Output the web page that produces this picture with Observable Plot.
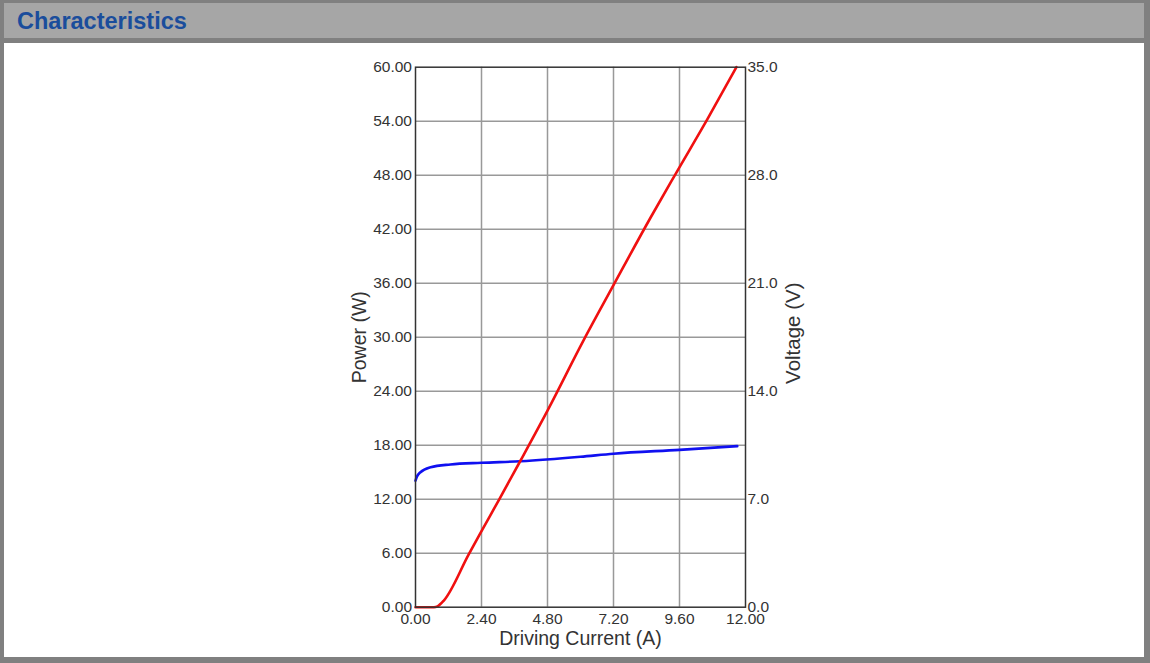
<!DOCTYPE html>
<html>
<head>
<meta charset="utf-8">
<script src="https://cdn.jsdelivr.net/npm/d3@7"></script>
<script src="https://cdn.jsdelivr.net/npm/@observablehq/plot@0.6"></script>
<style>
  html, body { margin: 0; padding: 0; background: #fff; }
  #wrap { position: relative; width: 1150px; height: 663px; background: #808080; overflow: hidden; font-family: Arial, "Liberation Sans", sans-serif; }
  #header { position: absolute; left: 4px; top: 3px; width: 1140px; height: 35px; background: #a6a6a6; }
  #header span { position: absolute; left: 13px; top: 5px; font-size: 23.5px; font-weight: bold; color: #1a4d9c; line-height: 26px; }
  #content { position: absolute; left: 4px; top: 43px; width: 1140px; height: 614px; background: #fff; }
  #content svg { display: block; }
</style>
</head>
<body>
<div id="wrap">
  <div id="header"><span>Characteristics</span></div>
  <div id="content"></div>
</div>
<script>
// Red curve: Power (W) vs Driving Current (A)
const redCurrent = [0, 0.67, 0.8, 1.03, 1.94, 2.39, 3.03, 3.82, 4.81, 6.12, 7.15, 8.55, 9.45, 10.61, 11.67];
const redPower   = [0, 0,    0.1, 0.74, 5.9,  8.4,  11.9, 16.3, 21.9, 29.7, 35.5, 43.3, 48.1, 54.2,  60.0];

// Blue curve: Voltage (V) vs Driving Current (A)
const blueCurrent = [0, 0.05, 0.18, 0.55, 1.27, 2.4, 3.82, 6.0, 7.2, 9.6, 11.7];
const blueVoltage = [8.2, 8.45, 8.75, 9.07, 9.25, 9.36, 9.46, 9.75, 9.95, 10.2, 10.44];

// Axis ticks
const xTicks = [0, 2.4, 4.8, 7.2, 9.6, 12];
const powerTicks = [0, 6, 12, 18, 24, 30, 36, 42, 48, 54, 60];
const voltageTicks = [0, 7, 14, 21, 28, 35];

const xLabel = "Driving Current (A)";
const leftLabel = "Power (W)";
const rightLabel = "Voltage (V)";

const powerMax = 60, voltageMax = 35;
const v2p = v => v * powerMax / voltageMax;

const redData = redCurrent.map((a, i) => ({a, w: redPower[i]}));
const blueData = blueCurrent.map((a, i) => ({a, v: blueVoltage[i]}));

const font = 'Arial, "Liberation Sans", sans-serif';

const chart = Plot.plot({
  width: 1140,
  height: 614,
  marginLeft: 411,
  marginRight: 399,
  marginTop: 23.7,
  marginBottom: 50.3,
  style: {fontFamily: font, fontSize: "15.5px", color: "#333", background: "transparent"},
  x: {domain: [0, 12]},
  y: {domain: [0, powerMax]},
  marks: [
    Plot.gridX(xTicks.slice(1, -1), {stroke: "#999", strokeOpacity: 1, strokeWidth: 1.5}),
    Plot.gridY(powerTicks.slice(1, -1), {stroke: "#999", strokeOpacity: 1, strokeWidth: 1.5}),
    Plot.axisX(xTicks, {tickSize: 0, tickPadding: 6, tickFormat: d => d.toFixed(2), label: null, fontSize: 15.5, fill: "#333"}),
    Plot.axisY(powerTicks, {anchor: "left", tickSize: 0, tickPadding: 3.5, tickFormat: d => d.toFixed(2), label: null, fontSize: 15.5, fill: "#333"}),
    Plot.axisY(voltageTicks.map(v2p), {anchor: "right", tickSize: 0, tickPadding: 2, tickFormat: d => (d * voltageMax / powerMax).toFixed(1), label: null, fontSize: 15.5, fill: "#333"}),
    Plot.line(blueData, {x: "a", y: d => v2p(d.v), stroke: "#1010f0", strokeWidth: 2.6, curve: "monotone-x"}),
    Plot.line(redData, {x: "a", y: "w", stroke: "#f01010", strokeWidth: 2.6, curve: "monotone-x"}),
    Plot.frame({stroke: "#333", strokeWidth: 1.5}),
    Plot.text([xLabel], {frameAnchor: "bottom", lineAnchor: "middle", textAnchor: "middle", dy: 32, fontSize: 19.5, fill: "#333"}),
    Plot.text([leftLabel], {frameAnchor: "left", lineAnchor: "middle", textAnchor: "middle", dx: -56, rotate: -90, fontSize: 19.5, fill: "#333"}),
    Plot.text([rightLabel], {frameAnchor: "right", lineAnchor: "middle", textAnchor: "middle", dx: 48, dy: -4, rotate: -90, fontSize: 20.5, fill: "#333"})
  ]
});
document.getElementById("content").appendChild(chart);
</script>
</body>
</html>
